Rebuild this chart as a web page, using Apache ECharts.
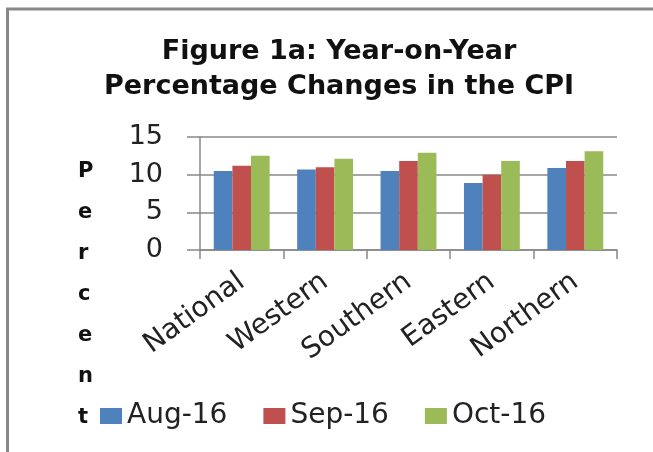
<!DOCTYPE html>
<html>
<head>
<meta charset="utf-8">
<script src="https://cdn.jsdelivr.net/npm/echarts@6/dist/echarts.min.js"></script>
<style>
  html, body { margin: 0; padding: 0; background: #fff; }
  #main { width: 653px; height: 452px; }
</style>
</head>
<body>
<div id="main"></div>
<script>
// data
var regions = ['National', 'Western', 'Southern', 'Eastern', 'Northern'];
var aug16 = [10.5, 10.7, 10.5, 8.9, 10.9];
var sep16 = [11.2, 11.0, 11.8, 10.0, 11.8];
var oct16 = [12.5, 12.1, 12.9, 11.8, 13.1];
var seriesNames = ['Aug-16', 'Sep-16', 'Oct-16'];
var colors = ['#4F81BD', '#C0504D', '#9BBB59'];
var axisWord = 'Percent';

var chart = echarts.init(document.getElementById('main'));

// vertical "Percent" letters
var letters = axisWord.split('').map(function (ch, i) {
  return {
    type: 'text',
    left: 78,
    top: 161 + i * 41,
    style: { text: ch, font: 'bold 21px "DejaVu Sans"', fill: '#111' }
  };
});

var option = {
  animation: false,
  title: {
    text: 'Figure 1a: Year-on-Year\nPercentage Changes in the CPI',
    left: 334,
    top: 29,
    textAlign: 'center',
    textStyle: {
      fontFamily: 'DejaVu Sans',
      fontWeight: 'bold',
      fontSize: 27,
      lineHeight: 35,
      color: '#111'
    }
  },
  graphic: [{
    type: 'rect',
    shape: { x: 7.5, y: 9, width: 800, height: 600 },
    style: { fill: 'none', stroke: '#888', lineWidth: 3 }
  }].concat(letters),
  legend: {
    left: 95,
    top: 397,
    itemWidth: 22,
    itemHeight: 16,
    itemGap: 36,
    icon: 'rect',
    textStyle: { fontFamily: 'DejaVu Sans', fontSize: 28, color: '#222' },
    data: seriesNames
  },
  grid: { left: 200, right: 36, top: 137, bottom: 202 },
  xAxis: {
    type: 'category',
    data: regions,
    axisLine: { lineStyle: { color: '#888', width: 1.5 } },
    axisTick: { show: true, length: 9, lineStyle: { color: '#888', width: 1.5 } },
    axisLabel: {
      rotate: 36,
      margin: 29,
      interval: 0,
      fontFamily: 'DejaVu Sans',
      fontSize: 28,
      color: '#222'
    }
  },
  yAxis: {
    type: 'value',
    min: 0,
    max: 15,
    interval: 5,
    axisLine: { show: true, lineStyle: { color: '#888', width: 1.5 } },
    axisTick: { show: true, length: 13, lineStyle: { color: '#888', width: 1.5 } },
    splitLine: { lineStyle: { color: '#888', width: 1.5 } },
    axisLabel: {
      margin: 37,
      fontFamily: 'DejaVu Sans',
      fontSize: 27,
      color: '#222'
    }
  },
  series: [aug16, sep16, oct16].map(function (vals, i) {
    return {
      name: seriesNames[i],
      type: 'bar',
      data: vals,
      barGap: '0%',
      barCategoryGap: '33%',
      itemStyle: { color: colors[i] }
    };
  })
};

chart.setOption(option);
</script>
</body>
</html>
